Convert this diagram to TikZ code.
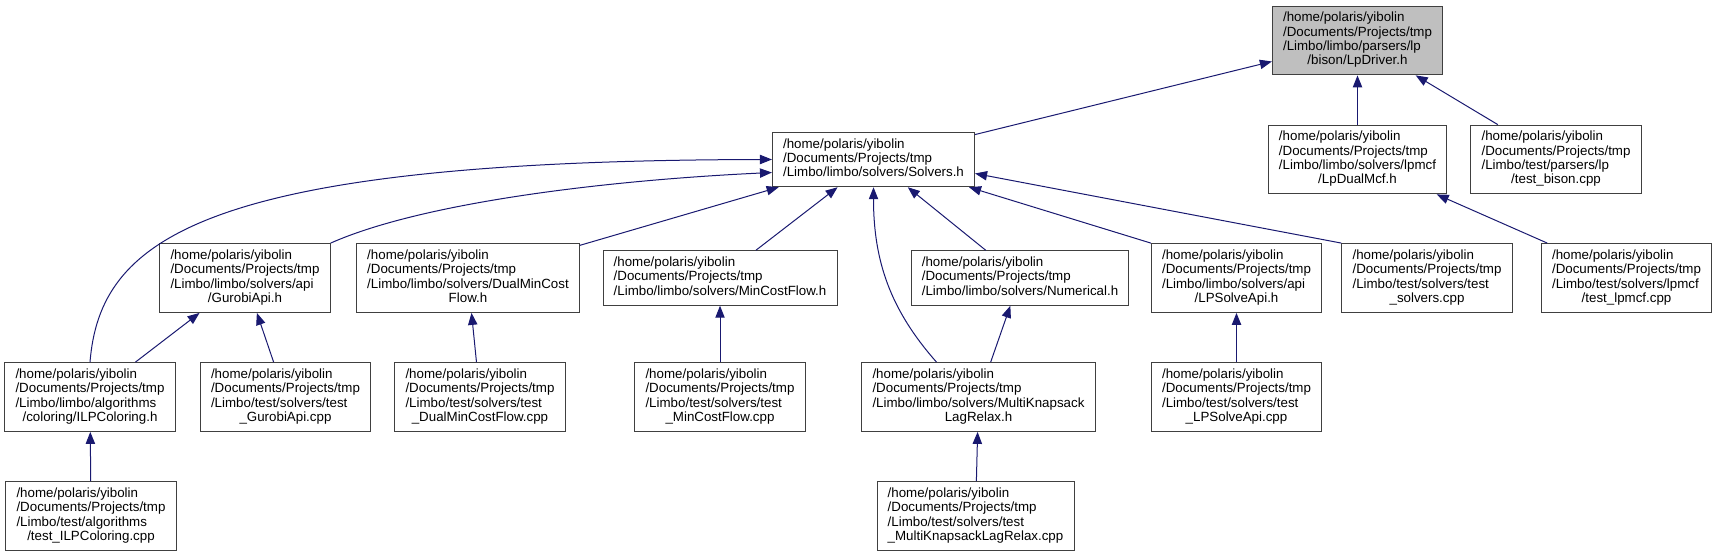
\documentclass[tikz,border=0pt]{standalone}
\usepackage{fontspec}
\setmainfont{Liberation Sans}
\usepackage{xcolor}
\definecolor{edgeblue}{RGB}{25,25,112}
\definecolor{rootgray}{RGB}{191,191,191}
\usepackage{tikz}
\usetikzlibrary{
    arrows.meta,
    calc
}
\tikzset{
    filebox/.style = {rectangle, draw=black!75, line width=0.75pt, fill=white,
                      inner xsep=8pt, inner ysep=4.3pt,
                      font=\fontsize{10}{10.75}\selectfont},
    rootbox/.style = {filebox, fill=rootgray},
    dep/.style     = {-{Triangle[length=9pt,width=7pt]}, draw=edgeblue,
                      line width=0.75pt}
}
% first lines left, last line centred (doxygen label)
\newcommand{\fpath}[2]{\begin{tabular}{@{}l@{}}#1\\\multicolumn{1}{@{}c@{}}{#2}\end{tabular}}
\newcommand{\hm}{/home/polaris/yibolin\\/Documents/Projects/tmp}

\begin{document}
\begin{tikzpicture}[x=0.75pt, y=-0.75pt]
\useasboundingbox (0,0) rectangle (1717,556);

% --- Row 1 ---
\node[rootbox] (lpdriver)  at (1357.5,40.5) {\fpath{\hm\\/Limbo/limbo/parsers/lp}{/bison/LpDriver.h}};

% --- Row 2 ---
\node[filebox] (solvers)   at (873.5,159.5)  {\fpath{\hm}{/Limbo/limbo/solvers/Solvers.h}};
\node[filebox] (lpdualmcf) at (1357.5,159.5) {\fpath{\hm\\/Limbo/limbo/solvers/lpmcf}{/LpDualMcf.h}};
\node[filebox] (testbison) at (1556,159.5)   {\fpath{\hm\\/Limbo/test/parsers/lp}{/test\_bison.cpp}};

% --- Row 3 ---
\node[filebox] (gurobi)      at (245,278)    {\fpath{\hm\\/Limbo/limbo/solvers/api}{/GurobiApi.h}};
\node[filebox] (dualmcf)     at (468,278)    {\fpath{\hm\\/Limbo/limbo/solvers/DualMinCost}{Flow.h}};
\node[filebox] (mincostflow) at (720,278)    {\fpath{\hm}{/Limbo/limbo/solvers/MinCostFlow.h}};
\node[filebox] (numerical)   at (1020,278)   {\fpath{\hm}{/Limbo/limbo/solvers/Numerical.h}};
\node[filebox] (lpsolve)     at (1236.5,278) {\fpath{\hm\\/Limbo/limbo/solvers/api}{/LPSolveApi.h}};
\node[filebox] (testsolvers) at (1427,278)   {\fpath{\hm\\/Limbo/test/solvers/test}{\_solvers.cpp}};
\node[filebox] (testlpmcf)   at (1626.5,278) {\fpath{\hm\\/Limbo/test/solvers/lpmcf}{/test\_lpmcf.cpp}};

% --- Row 4 ---
\node[filebox] (ilpcoloring)     at (90,397)     {\fpath{\hm\\/Limbo/limbo/algorithms}{/coloring/ILPColoring.h}};
\node[filebox] (testgurobi)      at (285.5,397)  {\fpath{\hm\\/Limbo/test/solvers/test}{\_GurobiApi.cpp}};
\node[filebox] (testdualmcf)     at (480,397)    {\fpath{\hm\\/Limbo/test/solvers/test}{\_DualMinCostFlow.cpp}};
\node[filebox] (testmincostflow) at (720,397)    {\fpath{\hm\\/Limbo/test/solvers/test}{\_MinCostFlow.cpp}};
\node[filebox] (mks)             at (978.5,397)  {\fpath{\hm\\/Limbo/limbo/solvers/MultiKnapsack}{LagRelax.h}};
\node[filebox] (testlpsolve)     at (1236.5,397) {\fpath{\hm\\/Limbo/test/solvers/test}{\_LPSolveApi.cpp}};

% --- Row 5 ---
\node[filebox] (testilp) at (91,516)    {\fpath{\hm\\/Limbo/test/algorithms}{/test\_ILPColoring.cpp}};
\node[filebox] (testmks) at (975.5,516) {\fpath{\hm\\/Limbo/test/solvers/test}{\_MultiKnapsackLagRelax.cpp}};

% --- Straight include edges (child -> parent) ---
\foreach \src/\dst in
   {lpdualmcf/lpdriver, testbison/lpdriver, solvers/lpdriver,
    testlpmcf/lpdualmcf, dualmcf/solvers, mincostflow/solvers,
    numerical/solvers, ilpcoloring/gurobi, testgurobi/gurobi,
    testdualmcf/dualmcf, testmincostflow/mincostflow, mks/numerical,
    testlpsolve/lpsolve, testilp/ilpcoloring, testmks/mks}
   \draw[dep] (\src) -- (\dst);

% --- Edges into Solvers.h from the sides ---
\draw[dep] (lpsolve.north west) -- ($(solvers.south east)+(-6,0)$);
\draw[dep] (testsolvers.north west) -- ($(solvers.east)+(0,14)$);
\draw[dep] (gurobi.north east) .. controls +(90,-40) and +(-170,8) .. ($(solvers.west)+(0,13)$);
\draw[dep] (ilpcoloring.north) .. controls +(10,-122) and +(-573,1) .. (solvers.west);
\draw[dep] ($(mks.north)+(-42,0)$) .. controls +(-46,-52) and +(0,74) .. (solvers.south);

\end{tikzpicture}
\end{document}
